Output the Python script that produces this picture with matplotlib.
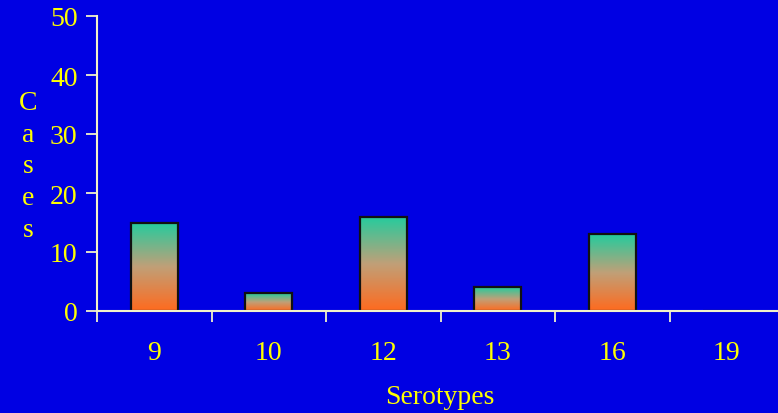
import numpy as np
import matplotlib
matplotlib.use("Agg")
import matplotlib.pyplot as plt
from matplotlib.colors import LinearSegmentedColormap

categories = ["9", "10", "12", "13", "16", "19"]
cases = [15, 3, 16, 4, 13, 0]
y_ticks = [0, 10, 20, 30, 40, 50]

BG = "#0000E3"
TXT = "#FFFF00"
AXC = "#F2F2C8"

plt.rcParams["font.family"] = ["Liberation Serif", "DejaVu Serif"]

fig = plt.figure(figsize=(7.78, 4.14), dpi=100, facecolor=BG)
ax = fig.add_axes([97/778, (414-312)/414, 687/778, (312-17)/414])
ax.set_facecolor(BG)

x = np.arange(len(categories))
bars = ax.bar(x, cases, width=0.41, facecolor="none", edgecolor="#111111",
              linewidth=1.6, zorder=3)

cmap = LinearSegmentedColormap.from_list(
    "grad", [(0.0, "#FF6A1E"), (0.5, "#C0A078"), (1.0, "#22CC9E")])
grad = np.linspace(0, 1, 256).reshape(-1, 1)
for b, v in zip(bars, cases):
    if v <= 0:
        continue
    x0 = b.get_x()
    w = b.get_width()
    im = ax.imshow(grad, cmap=cmap, origin="lower", aspect="auto",
                   extent=(x0, x0 + w, 0, v), zorder=2, interpolation="bilinear")
    im.set_clip_path(b)

ax.set_xlim(-0.5, len(categories) - 0.5)
ax.set_ylim(0, 50)

for s in ["top", "right"]:
    ax.spines[s].set_visible(False)
ax.spines["left"].set_color(AXC)
ax.spines["bottom"].set_color(AXC)
ax.spines["left"].set_linewidth(1.5)
ax.spines["bottom"].set_linewidth(1.5)
ax.spines["left"].set_zorder(4)
ax.spines["bottom"].set_zorder(4)

ax.set_yticks(y_ticks)
ax.set_yticklabels([str(t) for t in y_ticks])
ax.tick_params(axis="y", direction="out", length=8, width=1.3, color=AXC,
               labelcolor=TXT, labelsize=20, pad=6)

ax.set_xticks(np.arange(-0.5, len(categories), 1.0))
ax.set_xticklabels([])
ax.tick_params(axis="x", which="major", direction="out", length=8, width=1.3, color=AXC)
ax.set_xticks(x, minor=True)
ax.set_xticklabels(categories, minor=True)
ax.tick_params(axis="x", which="minor", length=0, labelcolor=TXT, labelsize=20, pad=21)

fig.text(440/778, 1 - 398/414, "Serotypes", color=TXT, fontsize=20,
         ha="center", va="center")
for i, ch in enumerate("Cases"):
    fig.text(28/778, 1 - (103 + i * 32)/414, ch, color=TXT, fontsize=20,
             ha="center", va="center")

fig.savefig("out.png", dpi=100, facecolor=BG)
